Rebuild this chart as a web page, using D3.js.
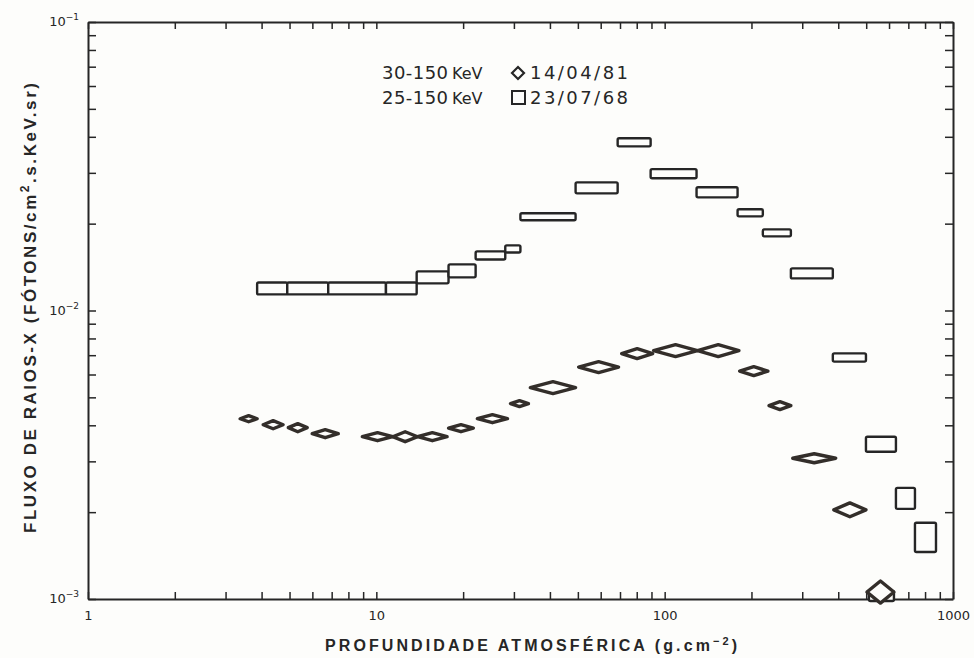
<!DOCTYPE html>
<html lang="pt">
<head>
    <meta charset="UTF-8">
    <title>Fluxo de raios-X x profundidade atmosférica</title>
    <script src="https://d3js.org/d3.v7.min.js"></script>
    <style>
        body {
            margin: 0;
            background: #fdfdfb;
        }
        svg text {
            fill: #262626;
        }
        .tick line, .domain {
            stroke: #262626;
        }
    </style>
</head>
<body>
    <div id="chart"></div>

    <script>
        // 23/07/68 (25-150 KeV): caixas, faixa de profundidade x faixa de fluxo
        const depthLo68 = [3.86, 4.91, 6.81, 10.8, 13.8, 17.8, 22.1, 28.0, 31.6, 49.1, 68.7, 89.4, 129, 179, 219, 274, 383, 499, 634, 738, 511];
        const depthHi68 = [4.91, 6.81, 10.8, 13.8, 17.8, 22.1, 28.0, 31.6, 49.1, 68.7, 89.4, 129, 179, 219, 274, 383, 499, 634, 738, 873, 624];
        const fluxLo68 = [0.01137, 0.01137, 0.01137, 0.01137, 0.01242, 0.01303, 0.01503, 0.01589, 0.02054, 0.02547, 0.03707, 0.02873, 0.02467, 0.02120, 0.01807, 0.01292, 0.00665, 0.003237, 0.002053, 0.001456, 0.000984];
        const fluxHi68 = [0.01251, 0.01251, 0.01251, 0.01251, 0.01366, 0.01445, 0.01603, 0.01682, 0.02173, 0.02781, 0.03954, 0.03090, 0.02673, 0.02244, 0.01910, 0.01400, 0.00710, 0.003652, 0.002427, 0.001837, 0.001067];

        // 14/04/81 (30-150 KeV): losangos
        const depthLo81 = [3.37, 4.05, 4.95, 5.99, 8.94, 11.4, 13.9, 17.8, 22.4, 29.2, 34.2, 50.3, 70.9, 91.5, 130, 182, 230, 278, 386, 503];
        const depthHi81 = [3.86, 4.75, 5.76, 7.38, 11.4, 13.9, 17.6, 21.7, 28.5, 33.7, 49.1, 69.2, 90.9, 130, 181, 228, 274, 392, 499, 624];
        const fluxLo81 = [0.004115, 0.003891, 0.003801, 0.003622, 0.003537, 0.00351, 0.003537, 0.003801, 0.004084, 0.004642, 0.00515, 0.006094, 0.006813, 0.006925, 0.006925, 0.005946, 0.004532, 0.002966, 0.001927, 0.000968];
        const fluxHi81 = [0.004318, 0.00415, 0.004055, 0.003862, 0.003771, 0.0038, 0.003771, 0.004023, 0.004353, 0.00487, 0.005665, 0.006652, 0.007379, 0.007618, 0.007618, 0.00639, 0.004832, 0.003188, 0.002154, 0.001155];

        const yDecades = [0.1, 0.01, 0.001];
        const yDecadeLabels = ["-1", "-2", "-3"];
        const legendRows = [
            { range: "30-150", unit: "KeV", symbol: "diamond", date: "14/04/81" },
            { range: "25-150", unit: "KeV", symbol: "square", date: "23/07/68" }
        ];

        const width = 974;
        const height = 658;
        const margin = { top: 22, right: 21, bottom: 59, left: 88 };
        const ink = "#262626";

        const svg = d3.select("#chart")
            .append("svg")
            .attr("width", width)
            .attr("height", height);

        const x = d3.scaleLog()
            .domain([1, 1000])
            .range([margin.left, width - margin.right]);

        const y = d3.scaleLog()
            .domain([0.001, 0.1])
            .range([height - margin.bottom, margin.top]);

        const isDecade = d => Math.abs(Math.log10(d) - Math.round(Math.log10(d))) < 1e-9;

        // eixos com marcas para dentro
        const styleAxis = g => {
            g.select(".domain").attr("stroke-width", 2);
            g.selectAll(".tick line").attr("stroke-width", 1.5);
        };

        svg.append("g")
            .attr("transform", `translate(0,${y.range()[0]})`)
            .call(d3.axisBottom(x).tickSizeInner(-7).tickSizeOuter(0).tickPadding(12)
                .tickFormat(d => isDecade(d) ? d3.format("d")(d) : ""))
            .call(styleAxis)
            .selectAll("text")
            .attr("font-family", "DejaVu Sans, sans-serif")
            .attr("font-size", 13)
            .attr("fill", ink);

        svg.append("g")
            .attr("transform", `translate(0,${y.range()[1]})`)
            .call(d3.axisTop(x).tickSizeInner(-7).tickSizeOuter(0).tickFormat(""))
            .call(styleAxis);

        svg.append("g")
            .attr("transform", `translate(${x.range()[0]},0)`)
            .call(d3.axisLeft(y).tickSizeInner(-8).tickSizeOuter(0).tickFormat(""))
            .call(styleAxis);

        svg.append("g")
            .attr("transform", `translate(${x.range()[1]},0)`)
            .call(d3.axisRight(y).tickSizeInner(-8).tickSizeOuter(0).tickFormat(""))
            .call(styleAxis);

        // rótulos do eixo y (potências de dez)
        const yLab = svg.append("g")
            .selectAll("text")
            .data(yDecades)
            .join("text")
            .attr("x", margin.left - 9)
            .attr("y", d => y(d) + 4)
            .attr("text-anchor", "end")
            .attr("font-family", "DejaVu Sans, sans-serif")
            .attr("font-size", 13);
        yLab.append("tspan").text("10");
        yLab.append("tspan")
            .attr("dy", -6)
            .attr("font-size", 9)
            .text((d, i) => yDecadeLabels[i].replace("-", "\u2212"));

        // caixas (23/07/68)
        svg.append("g")
            .selectAll("rect")
            .data(depthLo68.map((d, i) => i))
            .join("rect")
            .attr("x", i => x(depthLo68[i]))
            .attr("y", i => y(fluxHi68[i]))
            .attr("width", i => x(depthHi68[i]) - x(depthLo68[i]))
            .attr("height", i => y(fluxLo68[i]) - y(fluxHi68[i]))
            .attr("rx", 1.5)
            .attr("fill", "#fdfdfb")
            .attr("stroke", ink)
            .attr("stroke-width", 2.4);

        // losangos (14/04/81)
        const diamondPath = i => {
            const x0 = x(depthLo81[i]), x1 = x(depthHi81[i]);
            const y0 = y(fluxHi81[i]), y1 = y(fluxLo81[i]);
            const xm = (x0 + x1) / 2, ym = (y0 + y1) / 2;
            return `M${x0},${ym}L${xm},${y0}L${x1},${ym}L${xm},${y1}Z`;
        };

        svg.append("g")
            .selectAll("path")
            .data(depthLo81.map((d, i) => i))
            .join("path")
            .attr("d", diamondPath)
            .attr("fill", "#fdfdfb")
            .attr("stroke", "#332e2a")
            .attr("stroke-width", 3.4)
            .attr("stroke-linejoin", "round");

        // legenda
        const legend = svg.append("g")
            .attr("font-family", "DejaVu Sans, sans-serif")
            .attr("font-size", 18);

        legendRows.forEach((row, i) => {
            const ly = 79 + i * 25;
            legend.append("text").attr("x", 382).attr("y", ly)
                .attr("textLength", 66).attr("lengthAdjust", "spacing").text(row.range);
            legend.append("text").attr("x", 452).attr("y", ly)
                .attr("font-size", 16).text(row.unit);
            if (row.symbol === "diamond") {
                legend.append("path")
                    .attr("d", `M512,${ly - 6}L518,${ly - 12}L524,${ly - 6}L518,${ly}Z`)
                    .attr("fill", "none").attr("stroke", ink).attr("stroke-width", 2.2);
            } else {
                legend.append("rect")
                    .attr("x", 512).attr("y", ly - 13).attr("width", 13).attr("height", 13)
                    .attr("fill", "none").attr("stroke", ink).attr("stroke-width", 2);
            }
            legend.append("text").attr("x", 530).attr("y", ly)
                .attr("textLength", 98).attr("lengthAdjust", "spacing").text(row.date);
        });

        // títulos dos eixos
        const xTitle = svg.append("text")
            .attr("x", 325)
            .attr("y", 651)
            .attr("font-family", "Liberation Sans, Arial, sans-serif")
            .attr("font-weight", "bold")
            .attr("font-size", 16)
            .attr("textLength", 412)
            .attr("lengthAdjust", "spacing");
        xTitle.append("tspan").text("PROFUNDIDADE ATMOSFÉRICA (g.cm");
        xTitle.append("tspan").attr("dy", -6).attr("font-size", 11).text("\u22122");
        xTitle.append("tspan").attr("dy", 6).text(")");

        const yTitle = svg.append("text")
            .attr("transform", "translate(36,533) rotate(-90)")
            .attr("font-family", "Liberation Sans, Arial, sans-serif")
            .attr("font-weight", "bold")
            .attr("font-size", 17)
            .attr("textLength", 450)
            .attr("lengthAdjust", "spacing");
        yTitle.append("tspan").text("FLUXO DE RAIOS-X (FÓTONS/cm");
        yTitle.append("tspan").attr("dy", -7).attr("font-size", 12).text("2");
        yTitle.append("tspan").attr("dy", 7).text(".s.KeV.sr)");
    </script>
</body>
</html>
